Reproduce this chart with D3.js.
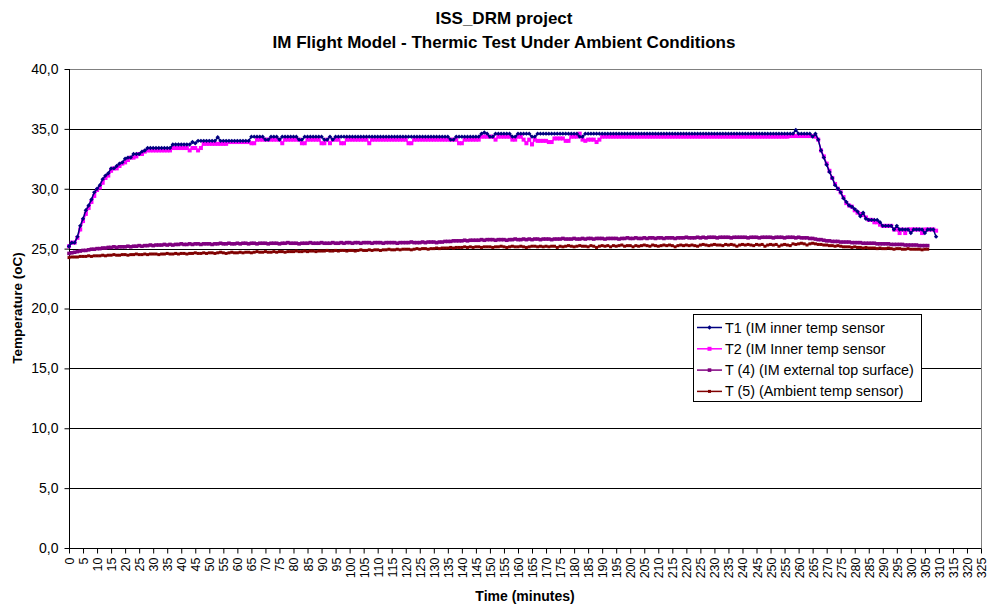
<!DOCTYPE html>
<html><head><meta charset="utf-8">
<script src="https://cdn.jsdelivr.net/npm/d3@7"></script>
<style>
html,body{margin:0;padding:0;background:#fff;}
svg{display:block;font-family:"Liberation Sans",Arial,sans-serif;}
</style></head><body>
<svg id="chart" width="989" height="604"></svg>
<script>
// Chart text
const titleLines = ["ISS_DRM project", "IM Flight Model - Thermic Test Under Ambient Conditions"];
const xTitle = "Time (minutes)";
const yTitle = "Temperature (oC)";

// Axis ticks
const xTickLabels = [0,5,10,15,20,25,30,35,40,45,50,55,60,65,70,75,80,85,90,95,100,105,110,115,120,125,130,135,140,145,150,155,160,165,170,175,180,185,190,195,200,205,210,215,220,225,230,235,240,245,250,255,260,265,270,275,280,285,290,295,300,305,310,315,320,325];
const yTickValues = [0,5,10,15,20,25,30,35,40];

const seriesNames = ["T1 (IM inner temp sensor", "T2 (IM Inner temp sensor", "T (4) (IM external top surface)", "T (5) (Ambient temp sensor)"];

// One reading per minute, starting at minute 0 (°C)
const t1 = [
25.2,25.5,25.5,26.0,26.9,27.5,28.2,28.6,29.1,29.7,
30.0,30.3,30.8,31.1,31.3,31.7,31.7,31.9,32.1,32.2,
32.5,32.6,32.6,32.9,32.9,32.9,33.1,33.2,33.4,33.4,
33.4,33.4,33.4,33.4,33.4,33.4,33.4,33.7,33.7,33.7,
33.7,33.7,33.7,33.7,33.9,33.8,34.0,34.0,34.0,34.0,
34.0,34.0,34.0,34.3,34.0,34.0,34.0,34.0,34.0,34.0,
34.0,34.0,34.0,34.0,34.0,34.35,34.35,34.35,34.35,34.35,
34.1,34.1,34.35,34.35,34.35,34.1,34.35,34.35,34.35,34.35,
34.35,34.35,34.1,34.1,34.35,34.35,34.35,34.35,34.35,34.35,
34.35,34.1,34.1,34.35,34.1,34.35,34.35,34.35,34.35,34.35,
34.35,34.35,34.35,34.35,34.35,34.35,34.35,34.35,34.35,34.35,
34.35,34.35,34.35,34.35,34.35,34.35,34.35,34.35,34.35,34.35,
34.35,34.35,34.35,34.35,34.35,34.35,34.35,34.35,34.35,34.35,
34.35,34.35,34.35,34.35,34.35,34.35,34.1,34.1,34.35,34.35,
34.35,34.35,34.35,34.35,34.35,34.35,34.35,34.6,34.7,34.6,
34.35,34.35,34.6,34.6,34.6,34.6,34.6,34.6,34.35,34.35,
34.6,34.6,34.6,34.6,34.6,34.35,34.35,34.6,34.6,34.6,
34.6,34.6,34.6,34.6,34.6,34.6,34.6,34.6,34.6,34.6,
34.6,34.6,34.35,34.35,34.6,34.6,34.6,34.6,34.6,34.6,
34.6,34.6,34.6,34.6,34.6,34.6,34.6,34.6,34.6,34.6,
34.6,34.6,34.6,34.6,34.6,34.6,34.6,34.6,34.6,34.6,
34.6,34.6,34.6,34.6,34.6,34.6,34.6,34.6,34.6,34.6,
34.6,34.6,34.6,34.6,34.6,34.6,34.6,34.6,34.6,34.6,
34.6,34.6,34.6,34.6,34.6,34.6,34.6,34.6,34.6,34.6,
34.6,34.6,34.6,34.6,34.6,34.6,34.6,34.6,34.6,34.6,
34.6,34.6,34.6,34.6,34.6,34.6,34.6,34.6,34.6,34.9,
34.6,34.6,34.6,34.6,34.6,34.35,34.6,34.1,33.2,32.6,
32.0,31.4,30.9,30.3,30.0,29.7,29.2,28.9,28.6,28.5,
28.3,28.1,27.7,28.0,27.5,27.4,27.4,27.4,27.4,27.2,
26.9,26.9,26.9,26.9,26.6,26.9,26.6,26.6,26.6,26.6,
26.3,26.6,26.6,26.6,26.6,26.3,26.6,26.6,26.6,26.0
];

const t2 = [
25.2,25.5,25.5,25.9,26.6,27.3,27.9,28.4,28.9,29.4,
29.9,30.1,30.5,30.9,31.1,31.5,31.7,31.7,31.9,32.1,
32.2,32.4,32.6,32.6,32.7,32.9,32.9,33.1,33.2,33.2,
33.2,33.2,33.2,33.2,33.2,33.2,33.2,33.4,33.4,33.4,
33.4,33.4,33.4,33.2,33.4,33.4,33.2,33.4,33.75,33.75,
33.75,33.75,33.75,33.75,33.75,33.75,33.75,33.9,33.9,33.9,
33.9,33.9,33.9,33.9,33.9,33.8,33.8,34.1,34.1,34.1,
34.1,34.1,34.1,34.1,34.1,34.1,33.8,34.1,34.1,34.1,
34.1,34.1,34.1,33.8,33.8,34.1,34.1,34.1,34.1,34.1,
33.8,33.8,34.1,33.8,34.1,34.1,34.1,33.8,33.8,34.1,
34.1,34.1,34.1,34.1,34.1,34.1,34.1,33.8,34.1,34.1,
34.1,34.1,34.1,34.1,34.1,34.1,34.1,34.1,34.1,34.1,
34.1,33.8,33.8,34.1,34.1,34.1,34.1,34.1,34.1,34.1,
34.1,34.1,34.1,34.1,34.1,34.1,34.1,34.1,34.1,33.8,
33.8,34.1,34.1,34.1,34.1,34.1,34.1,34.35,34.35,34.35,
34.35,34.35,34.1,34.35,34.35,34.35,34.35,34.35,34.1,34.1,
34.35,34.35,34.1,33.8,34.1,33.7,34.1,34.0,34.0,34.0,
34.0,33.9,33.9,34.2,34.2,34.2,34.2,34.0,34.0,34.35,
34.35,34.35,34.6,34.1,34.0,34.1,34.1,34.1,33.9,34.1,
34.35,34.35,34.35,34.35,34.35,34.35,34.35,34.35,34.35,34.35,
34.35,34.35,34.35,34.35,34.35,34.35,34.35,34.35,34.35,34.35,
34.35,34.35,34.35,34.35,34.35,34.35,34.35,34.35,34.35,34.35,
34.35,34.35,34.35,34.35,34.35,34.35,34.35,34.35,34.35,34.35,
34.35,34.35,34.35,34.35,34.35,34.35,34.35,34.35,34.35,34.35,
34.35,34.35,34.35,34.35,34.35,34.35,34.35,34.35,34.35,34.35,
34.35,34.35,34.35,34.35,34.35,34.35,34.35,34.4,34.4,34.4,
34.4,34.4,34.4,34.4,34.4,34.4,34.35,34.1,33.2,32.7,
32.1,31.5,30.9,30.4,30.0,29.7,29.3,28.8,28.6,28.5,
28.2,28.0,27.9,27.8,27.6,27.4,27.4,27.2,27.2,27.0,
26.9,26.9,26.9,26.9,26.6,26.6,26.3,26.6,26.3,26.6,
26.6,26.6,26.6,26.6,26.3,26.6,26.6,26.6,26.6,26.5
];

const t4 = [
24.60,24.65,24.70,24.75,24.80,24.85,24.85,24.90,24.95,24.95,
25.00,25.00,25.05,25.05,25.10,25.10,25.15,25.10,25.15,25.15,
25.15,25.20,25.15,25.20,25.20,25.25,25.20,25.25,25.25,25.30,
25.25,25.30,25.30,25.30,25.35,25.30,25.35,25.30,25.35,25.35,
25.40,25.35,25.35,25.40,25.35,25.40,25.40,25.35,25.40,25.40,
25.40,25.35,25.40,25.40,25.45,25.40,25.40,25.45,25.40,25.40,
25.45,25.40,25.45,25.45,25.40,25.45,25.45,25.40,25.45,25.45,
25.45,25.40,25.45,25.45,25.45,25.40,25.45,25.45,25.50,25.45,
25.45,25.45,25.40,25.45,25.45,25.45,25.50,25.45,25.45,25.45,
25.50,25.45,25.45,25.45,25.50,25.45,25.45,25.50,25.45,25.50,
25.50,25.45,25.50,25.50,25.45,25.50,25.50,25.50,25.45,25.50,
25.50,25.50,25.45,25.50,25.50,25.50,25.50,25.45,25.50,25.50,
25.50,25.50,25.55,25.50,25.50,25.50,25.55,25.50,25.55,25.55,
25.55,25.50,25.55,25.55,25.60,25.60,25.60,25.65,25.65,25.65,
25.65,25.70,25.65,25.70,25.70,25.70,25.70,25.75,25.70,25.75,
25.75,25.75,25.70,25.75,25.75,25.75,25.70,25.75,25.75,25.80,
25.75,25.75,25.80,25.75,25.80,25.75,25.80,25.80,25.75,25.80,
25.80,25.80,25.75,25.80,25.80,25.80,25.85,25.80,25.80,25.80,
25.85,25.80,25.80,25.85,25.80,25.85,25.85,25.80,25.85,25.85,
25.85,25.80,25.85,25.85,25.85,25.85,25.80,25.85,25.85,25.90,
25.85,25.85,25.90,25.85,25.85,25.90,25.85,25.90,25.90,25.85,
25.90,25.90,25.85,25.90,25.90,25.90,25.85,25.90,25.90,25.90,
25.95,25.90,25.90,25.90,25.95,25.90,25.95,25.90,25.95,25.95,
25.95,25.90,25.95,25.95,25.95,25.95,25.90,25.95,25.95,25.95,
25.95,25.95,25.90,25.95,25.95,25.95,25.90,25.95,25.95,25.95,
25.95,25.90,25.95,25.95,25.95,25.90,25.95,25.95,25.95,25.90,
25.95,25.90,25.90,25.90,25.85,25.85,25.80,25.75,25.75,25.70,
25.65,25.65,25.60,25.60,25.60,25.55,25.55,25.55,25.55,25.50,
25.50,25.50,25.50,25.45,25.45,25.45,25.45,25.45,25.40,25.40,
25.40,25.40,25.40,25.35,25.35,25.35,25.35,25.35,25.30,25.30,
25.30,25.30,25.30,25.25,25.25,25.25,25.25
];

const t5 = [
24.25,24.30,24.30,24.30,24.35,24.35,24.35,24.40,24.35,24.40,
24.40,24.40,24.45,24.40,24.45,24.45,24.50,24.45,24.45,24.50,
24.50,24.45,24.50,24.50,24.55,24.50,24.50,24.55,24.50,24.55,
24.55,24.55,24.50,24.55,24.55,24.60,24.55,24.55,24.60,24.55,
24.60,24.60,24.55,24.60,24.60,24.65,24.60,24.60,24.65,24.60,
24.65,24.65,24.60,24.65,24.70,24.65,24.60,24.65,24.70,24.65,
24.65,24.70,24.65,24.70,24.70,24.65,24.70,24.75,24.70,24.70,
24.75,24.70,24.70,24.75,24.70,24.75,24.75,24.70,24.75,24.75,
24.75,24.80,24.75,24.75,24.80,24.75,24.80,24.80,24.75,24.80,
24.80,24.80,24.85,24.80,24.80,24.85,24.80,24.85,24.85,24.80,
24.85,24.85,24.80,24.85,24.90,24.85,24.85,24.90,24.85,24.90,
24.90,24.85,24.90,24.90,24.95,24.90,24.90,24.95,24.90,24.95,
24.95,24.95,24.90,24.95,25.00,24.95,25.00,25.00,24.95,25.00,
25.00,25.05,25.00,25.05,25.05,25.05,25.10,25.05,25.10,25.10,
25.10,25.15,25.10,25.15,25.10,25.15,25.15,25.10,25.15,25.15,
25.15,25.10,25.15,25.15,25.20,25.15,25.10,25.15,25.20,25.15,
25.15,25.20,25.15,25.10,25.15,25.20,25.20,25.15,25.20,25.15,
25.20,25.15,25.20,25.20,25.10,25.20,25.15,25.20,25.25,25.20,
25.15,25.20,25.25,25.20,25.20,25.15,25.25,25.20,25.10,25.20,
25.25,25.20,25.25,25.15,25.25,25.20,25.25,25.30,25.20,25.25,
25.25,25.15,25.25,25.20,25.25,25.30,25.25,25.20,25.30,25.25,
25.20,25.25,25.30,25.25,25.30,25.25,25.15,25.25,25.30,25.25,
25.30,25.25,25.30,25.25,25.20,25.30,25.35,25.30,25.25,25.30,
25.35,25.30,25.30,25.25,25.35,25.30,25.35,25.30,25.20,25.30,
25.35,25.30,25.35,25.30,25.25,25.35,25.30,25.35,25.20,25.30,
25.35,25.30,25.35,25.20,25.30,25.35,25.30,25.25,25.40,25.35,
25.40,25.45,25.40,25.30,25.40,25.45,25.40,25.35,25.35,25.30,
25.30,25.25,25.25,25.20,25.25,25.20,25.15,25.15,25.15,25.10,
25.15,25.10,25.10,25.05,25.10,25.05,25.05,25.05,25.00,25.05,
25.00,25.00,25.05,25.00,24.95,25.00,25.00,24.95,24.95,25.00,
24.95,24.95,24.95,24.95,24.90,24.95,24.95
];

// Plot frame
const plot = {left: 69, right: 981, top: 69, bottom: 548};
const svg = d3.select("#chart");

const x = d3.scaleLinear().domain([0, 325]).range([plot.left, plot.right]);
const y = d3.scaleLinear().domain([0, 40]).range([plot.bottom, plot.top]);

// Horizontal gridlines
svg.append("g").selectAll("line")
  .data(yTickValues.filter(v => v > 0 && v < 40))
  .join("line")
  .attr("x1", plot.left).attr("x2", plot.right)
  .attr("y1", d => Math.round(y(d)) + 0.5).attr("y2", d => Math.round(y(d)) + 0.5)
  .attr("stroke", "#000").attr("stroke-width", 1);

// Plot area border
svg.append("rect")
  .attr("x", plot.left + 0.5).attr("y", Math.round(plot.top) + 0.5)
  .attr("width", plot.right - plot.left).attr("height", plot.bottom - plot.top)
  .attr("fill", "none").attr("stroke", "#808080");

// Y axis
const fmt = d => d3.format(".1f")(d).replace(".", ",");
const yAxis = svg.append("g")
  .attr("transform", `translate(${plot.left + 0.5},0)`)
  .call(d3.axisLeft(y).tickValues(yTickValues).tickSize(5).tickPadding(6).tickFormat(fmt));
yAxis.selectAll("text").attr("font-size", 14).attr("fill", "#000")
  .attr("font-family", "'Liberation Sans', Arial, sans-serif");
yAxis.selectAll("line,path").attr("stroke", "#000");
yAxis.select(".domain").attr("d", `M0,${y(40)}V${y(0)}`);

// X axis
const xAxis = svg.append("g")
  .attr("transform", `translate(0,${plot.bottom + 0.5})`)
  .call(d3.axisBottom(x).tickValues(xTickLabels).tickSize(5));
xAxis.selectAll("line,path").attr("stroke", "#000");
xAxis.select(".domain").attr("d", `M${x(0)},0H${x(325)}`);
xAxis.selectAll("text")
  .attr("font-size", 12.5).attr("fill", "#000")
  .attr("font-family", "'Liberation Sans', Arial, sans-serif")
  .attr("transform", "rotate(-90)")
  .attr("text-anchor", "end")
  .attr("x", -9).attr("y", 0).attr("dy", "0.36em");

// Series
const series = [
  {name: seriesNames[2], values: t4, color: "#800080", shape: "square", size: 3.6},
  {name: seriesNames[3], values: t5, color: "#800000", shape: "square", size: 3},
  {name: seriesNames[1], values: t2, color: "#FF00FF", shape: "square", size: 4},
  {name: seriesNames[0], values: t1, color: "#000080", shape: "diamond", size: 2.2}
];

const line = d3.line().x((d, i) => x(i)).y(d => y(d));

function drawMarker(sel, s) {
  if (s.shape === "square") {
    sel.append("rect")
      .attr("x", -s.size / 2).attr("y", -s.size / 2)
      .attr("width", s.size).attr("height", s.size)
      .attr("fill", s.color);
  } else {
    sel.append("path")
      .attr("d", `M0,${-s.size}L${s.size},0L0,${s.size}L${-s.size},0Z`)
      .attr("fill", s.color);
  }
}

series.forEach(s => {
  const g = svg.append("g");
  g.append("path").datum(s.values)
    .attr("d", line).attr("fill", "none")
    .attr("stroke", s.color).attr("stroke-width", 1.5).attr("stroke-linejoin", "round");
  g.selectAll("g.m").data(s.values).join("g")
    .attr("class", "m")
    .attr("transform", (d, i) => `translate(${x(i)},${y(d)})`)
    .each(function () { drawMarker(d3.select(this), s); });
});

// Titles
svg.append("text").attr("x", 504).attr("y", 24).attr("text-anchor", "middle")
  .attr("font-size", 17).attr("font-weight", "bold").text(titleLines[0]);
svg.append("text").attr("x", 504).attr("y", 48).attr("text-anchor", "middle")
  .attr("font-size", 17).attr("font-weight", "bold").text(titleLines[1]);
svg.append("text").attr("x", 525).attr("y", 601).attr("text-anchor", "middle")
  .attr("font-size", 14).attr("font-weight", "bold").text(xTitle);
svg.append("text").attr("transform", "translate(22,308) rotate(-90)").attr("text-anchor", "middle")
  .attr("font-size", 13.5).attr("font-weight", "bold").text(yTitle);

// Legend
const legend = svg.append("g");
legend.append("rect").attr("x", 693.5).attr("y", 314.5).attr("width", 228).attr("height", 87)
  .attr("fill", "#fff").attr("stroke", "#000");
const legendOrder = [series[3], series[2], series[0], series[1]];
legendOrder.forEach((s, i) => {
  const cy = 327.5 + i * 21.3;
  legend.append("line").attr("x1", 697).attr("x2", 722).attr("y1", cy).attr("y2", cy)
    .attr("stroke", s.color).attr("stroke-width", 1.5);
  const m = legend.append("g").attr("transform", `translate(709.5,${cy})`);
  drawMarker(m, s);
  legend.append("text").attr("x", 725).attr("y", cy).attr("dy", "0.35em")
    .attr("font-size", 14.3).attr("fill", "#000").text(s.name);
});
</script>
</body></html>
